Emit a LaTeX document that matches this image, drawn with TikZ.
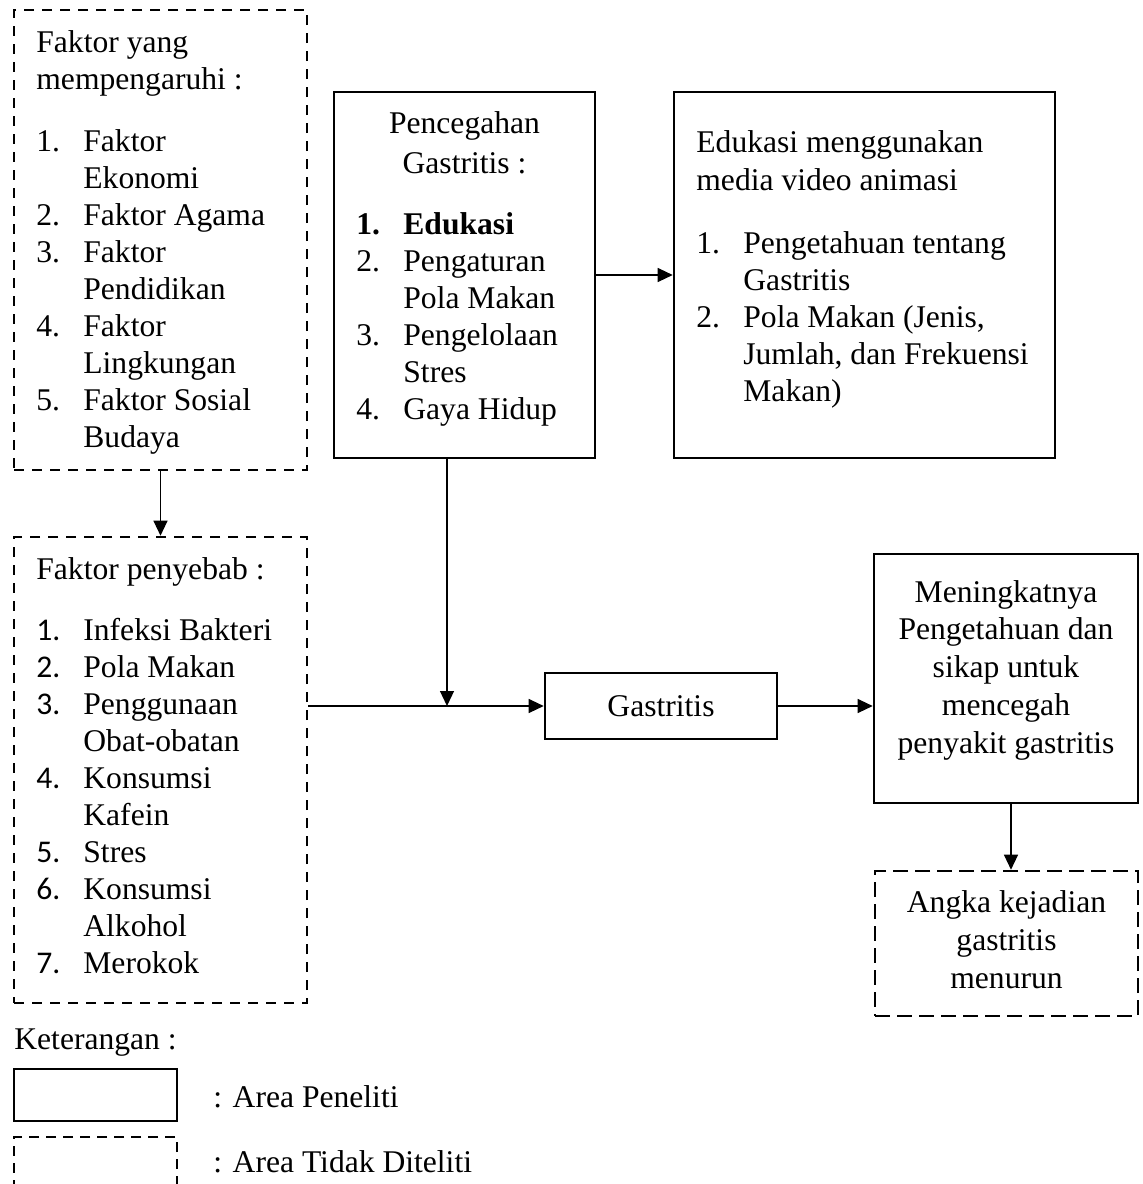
\documentclass[tikz,border=0pt]{standalone}
\usepackage{fontspec}
\setmainfont{Liberation Serif}
\newfontfamily\angka{Carlito}
\usetikzlibrary{calc,arrows.meta,positioning}
\newcommand{\nomor}[1]{\makebox[23.5pt][l]{#1}}
\newcommand{\nomorb}[1]{\makebox[23.5pt][l]{\angka #1}}
\newcommand{\lanjut}{\hspace*{23.5pt}}

\begin{document}
\begin{tikzpicture}[x=0.5pt,y=-0.5pt]

\tikzset{kotak/.style={draw,line width=1.3pt,inner sep=0pt,shape=rectangle},
putus/.style={kotak,dash pattern=on 5pt off 4pt},
putuspanjang/.style={kotak,dash pattern=on 7.5pt off 3.5pt},
teks/.style={inner sep=0pt,font=\fontsize{15.8}{18.5}\selectfont},
panah/.style={line width=0.6pt,-{Triangle[length=7.5pt,width=7pt]}}}

\useasboundingbox (0,0) rectangle (1142,1184);

% Boxes
\node[putus,minimum width=146.5pt,minimum height=230pt] (mempengaruhi) at (160.5,240) {};
\node[putus,minimum width=146.5pt,minimum height=233pt] (penyebab) at (160.5,770) {};
\node[kotak,minimum width=130.5pt,minimum height=183pt] (pencegahan) at (464.5,275) {};
\node[kotak,minimum width=190.5pt,minimum height=183pt] (edukasi) at (864.5,275) {};
\node[kotak,teks,minimum width=116pt,minimum height=33pt] (gastritis) at (661,706) {Gastritis};
\node[kotak,minimum width=132pt,minimum height=124.5pt] (meningkat) at (1006,678.5) {};
\node[putuspanjang,minimum width=131.5pt,minimum height=72.5pt] (angka) at (1006.5,943.5) {};

% Texts in the boxes
\node[teks,anchor=base west] (mempengaruhiTeks) at (36,52) {\begin{tabular}[t]{@{}l@{}}
Faktor yang\\
mempengaruhi :\\[12.5pt]
\nomor{1.}Faktor\\
\lanjut Ekonomi\\
\nomor{2.}Faktor Agama\\
\nomor{3.}Faktor\\
\lanjut Pendidikan\\
\nomor{4.}Faktor\\
\lanjut Lingkungan\\
\nomor{5.}Faktor Sosial\\
\lanjut Budaya
\end{tabular}};

\node[teks,anchor=base west] (penyebabTeks) at (36,579) {\begin{tabular}[t]{@{}l@{}}
Faktor penyebab :\\[12pt]
\nomorb{1.}Infeksi Bakteri\\
\nomorb{2.}Pola Makan\\
\nomorb{3.}Penggunaan\\
\lanjut Obat-obatan\\
\nomorb{4.}Konsumsi\\
\lanjut Kafein\\
\nomorb{5.}Stres\\
\nomorb{6.}Konsumsi\\
\lanjut Alkohol\\
\nomorb{7.}Merokok
\end{tabular}};

\node[teks,anchor=base] (pencegahanJudul) at (464.5,133) {\begin{tabular}[t]{@{}c@{}}
Pencegahan\\[1.5pt]
Gastritis :
\end{tabular}};
\node[teks,anchor=base west] (pencegahanTeks) at (356,234) {\begin{tabular}[t]{@{}l@{}}
\textbf{\nomor{1.}Edukasi}\\
\nomor{2.}Pengaturan\\
\lanjut Pola Makan\\
\nomor{3.}Pengelolaan\\
\lanjut Stres\\
\nomor{4.}Gaya Hidup
\end{tabular}};

\node[teks,anchor=base west] (edukasiTeks) at (696,152) {\begin{tabular}[t]{@{}l@{}}
Edukasi menggunakan\\[0.5pt]
media video animasi\\[13pt]
\nomor{1.}Pengetahuan tentang\\
\lanjut Gastritis\\
\nomor{2.}Pola Makan (Jenis,\\
\lanjut Jumlah, dan Frekuensi\\
\lanjut Makan)
\end{tabular}};

\node[teks,anchor=base] (meningkatTeks) at (1006,602) {\begin{tabular}[t]{@{}c@{}}
Meningkatnya\\[0.4pt]
Pengetahuan dan\\[0.4pt]
sikap untuk\\[0.4pt]
mencegah\\[0.4pt]
penyakit gastritis
\end{tabular}};

\node[teks,anchor=base] (angkaTeks) at (1006.5,912) {\begin{tabular}[t]{@{}c@{}}
Angka kejadian\\[0.5pt]
gastritis\\[0.5pt]
menurun
\end{tabular}};

% Edges
\coordinate (simpang) at (447,706);
\draw[panah] (mempengaruhi) -- (penyebab);
\draw[panah] (penyebab.east |- gastritis.west) -- (gastritis.west);
\draw[panah] (pencegahan.south -| simpang) -- (simpang);
\draw[panah] (pencegahan) -- (edukasi);
\draw[panah] (gastritis.east) -- (gastritis.east -| meningkat.west);
\draw[panah] ([xshift=2.5pt]meningkat.south) -- ([xshift=2.5pt]meningkat.south |- angka.north);

% Legend
\node[teks,anchor=base west] (keterangan) at (14,1049) {Keterangan :};
\node[kotak,minimum width=81.5pt,minimum height=26pt] (legendaTeliti) at (95.5,1095) {};
\node[kotak,dash pattern=on 5pt off 3.5pt,minimum width=81.5pt,minimum height=36.5pt] (legendaTidak) at (95.5,1173.5) {};
\node[teks,anchor=base west] (legendaTelitiTeks) at (213,1107) {: Area Peneliti};
\node[teks,anchor=base west] (legendaTidakTeks) at (213,1172) {: Area Tidak Diteliti};

\end{tikzpicture}
\end{document}
